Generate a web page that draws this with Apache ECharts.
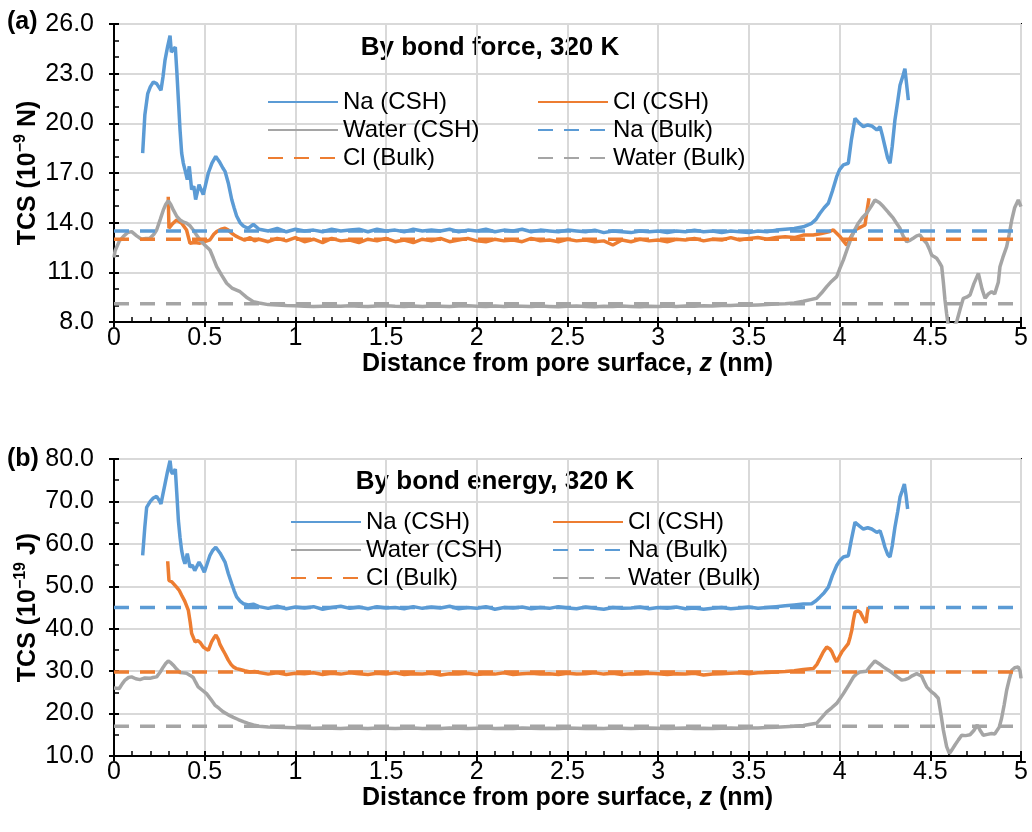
<!DOCTYPE html>
<html>
<head>
<meta charset="utf-8">
<title>TCS profiles</title>
<script src="https://cdn.jsdelivr.net/npm/echarts@6/dist/echarts.min.js"></script>
<style>
  html, body { margin: 0; padding: 0; background: #fff; }
  #chart { width: 1032px; height: 832px; }
</style>
</head>
<body>
<div id="chart"></div>
<script>
// ---------- axis ticks ----------
const Z_TICKS = [0, 5, 0.5];            // min, max, step (nm)
const FORCE_TICKS = [8, 26, 3];         // min, max, step (1e-9 N)
const ENERGY_TICKS = [10, 80, 10];      // min, max, step (1e-19 J)

// ---------- shared z samples across the pore interior ----------
const MID_Z = [0.80,0.85,0.90,0.95,1.00,1.05,1.10,1.15,1.20,1.25,
  1.30,1.35,1.40,1.45,1.50,1.55,1.60,1.65,1.70,1.75,
  1.80,1.85,1.90,1.95,2.00,2.05,2.10,2.15,2.20,2.25,
  2.30,2.35,2.40,2.45,2.50,2.55,2.60,2.65,2.70,2.75,
  2.80,2.85,2.90,2.95,3.00,3.05,3.10,3.15,3.20,3.25,
  3.30,3.35,3.40,3.45,3.50,3.55,3.60,3.65,3.70,3.75,3.80];

// ---------- (a) by bond force ----------
const forceNaLeadZ = [0.158,0.17,0.186,0.2,0.217,0.235,0.259,0.27,0.281,0.295,0.309,0.316,0.323,0.338,0.346,0.355,0.364,0.373,0.382,0.391,0.404,0.415,0.428,0.44,0.45,0.469,0.48,0.492,0.505,0.52,0.54,0.561,0.58,0.6,0.612,0.63,0.649,0.662,0.676,0.695,0.713,0.74,0.768];
const forceNaLead = [18.2,20.5,21.8,22.2,22.5,22.4,22.0,22.8,23.8,24.6,25.3,24.3,24.4,24.6,23.2,21.4,19.6,18.2,17.6,17.2,16.6,17.4,16.0,16.2,15.4,16.3,16.0,15.7,16.3,17.0,17.6,18.0,17.7,17.3,17.1,16.4,15.4,14.9,14.4,14.0,13.8,13.65,13.9];
const forceNaMid = [13.60,13.50,13.65,13.45,13.60,13.50,13.55,13.45,13.60,13.50,
  13.55,13.60,13.45,13.60,13.50,13.55,13.45,13.60,13.50,13.55,
  13.50,13.60,13.45,13.55,13.50,13.60,13.45,13.55,13.50,13.60,
  13.45,13.55,13.50,13.45,13.55,13.50,13.45,13.55,13.40,13.50,
  13.45,13.40,13.50,13.45,13.50,13.40,13.50,13.45,13.55,13.45,
  13.50,13.40,13.50,13.45,13.40,13.50,13.45,13.55,13.60,13.65,13.75];
const forceNaTailZ = [3.846,3.87,3.892,3.915,3.938,3.96,3.984,4.0,4.021,4.048,4.065,4.085,4.11,4.131,4.155,4.177,4.205,4.223,4.235,4.25,4.265,4.278,4.29,4.305,4.32,4.333,4.35,4.36,4.37,4.379];
const forceNaTail = [13.96,14.2,14.57,14.9,15.17,15.9,16.78,17.2,17.49,17.59,19.0,20.3,20.0,19.8,19.9,19.84,19.6,19.8,19.3,18.6,17.9,17.59,18.6,20.2,21.3,22.3,22.9,23.3,22.3,21.4];

const forceClLeadZ = [0.299,0.303,0.32,0.345,0.373,0.40,0.419,0.445,0.474,0.50,0.529,0.55,0.566,0.59,0.612,0.63,0.649,0.67,0.695,0.72,0.75,0.775];
const forceClLead = [15.57,13.66,13.9,14.16,13.97,13.56,12.76,12.8,12.76,12.85,12.96,13.3,13.46,13.6,13.66,13.55,13.36,13.2,13.06,12.95,13.1,12.9];
const forceClMid = [13.00,12.85,13.05,12.90,13.10,12.85,13.00,12.80,13.05,12.90,
  12.95,12.80,13.00,12.90,13.05,12.85,12.95,12.80,13.00,12.90,
  13.05,12.85,12.95,13.05,12.90,12.85,13.00,12.90,12.95,12.85,
  13.05,12.90,12.95,12.85,13.00,12.90,12.95,12.85,12.90,12.65,
  12.95,12.85,13.00,12.90,12.95,12.85,13.00,12.95,13.05,12.90,
  13.00,12.95,13.10,12.95,13.05,13.10,13.00,13.10,13.15,13.10,13.25];
const forceClTailZ = [3.855,3.9,3.94,3.966,3.985,4.002,4.02,4.039,4.06,4.085,4.11,4.14,4.149,4.162];
const forceClTail = [13.26,13.35,13.45,13.56,13.35,13.16,12.9,12.65,13.1,13.56,13.7,13.86,14.57,15.47];

const forceWaterLeadZ = [0.0,0.006,0.03,0.051,0.075,0.097,0.125,0.152,0.175,0.198,0.22,0.235,0.255,0.272,0.285,0.299,0.313,0.327,0.345,0.364,0.38,0.40,0.42,0.437,0.455,0.474,0.50,0.529,0.548,0.566,0.595,0.621,0.65,0.695,0.73,0.768];
const forceWaterLead = [11.9,12.3,12.9,13.16,13.4,13.46,13.2,13.0,13.05,13.06,13.3,13.56,14.2,14.77,15.1,15.33,15.1,14.77,14.4,14.16,14.05,13.97,13.8,13.56,13.25,12.96,12.65,12.35,11.85,11.34,10.8,10.34,10.05,9.83,9.5,9.23];
const forceWaterMid = [9.15,9.05,9.03,9.00,8.98,8.95,8.93,8.95,8.97,8.95,
  8.98,8.95,8.93,8.96,8.98,8.95,8.93,8.96,8.94,8.97,
  8.95,8.93,8.96,8.98,8.95,8.93,8.96,8.94,8.97,8.95,
  8.93,8.96,8.94,8.92,8.95,8.97,8.94,8.92,8.95,8.93,
  8.96,8.94,8.92,8.95,8.93,8.96,8.94,8.97,8.95,8.98,
  8.96,8.99,9.00,9.02,9.01,9.03,9.05,9.08,9.10,9.15,9.25];
const forceWaterTailZ = [3.84,3.873,3.9,3.929,3.955,3.984,4.0,4.021,4.045,4.067,4.085,4.103,4.125,4.149,4.175,4.195,4.22,4.241,4.27,4.296,4.315,4.333,4.35,4.37,4.39,4.406,4.425,4.443,4.46,4.48,4.495,4.507,4.52,4.535,4.55,4.563,4.572,4.581,4.59,4.6,4.62,4.645,4.665,4.682,4.7,4.719,4.74,4.765,4.785,4.802,4.82,4.838,4.855,4.866,4.875,4.884,4.9,4.921,4.935,4.949,4.965,4.985,5.0];
const forceWaterTail = [9.35,9.43,9.75,10.14,10.45,10.74,11.2,11.75,12.5,13.16,13.6,13.97,14.3,14.57,15.0,15.37,15.2,14.97,14.6,14.27,13.95,13.66,13.2,12.85,12.95,13.06,13.2,13.26,13.0,12.76,12.4,12.05,11.95,11.85,11.6,11.34,10.4,9.33,8.5,7.7,7.6,8.0,8.8,9.43,9.5,9.63,10.3,10.94,10.0,9.43,9.7,9.83,9.7,9.63,10.4,11.34,11.9,12.55,13.3,14.16,14.9,15.37,14.97];

// bulk reference levels: Na, Cl, Water
const forceBulk = [13.5, 13.0, 9.1];

// ---------- (b) by bond energy ----------
const energyNaLeadZ = [0.158,0.17,0.18,0.2,0.217,0.235,0.25,0.259,0.27,0.281,0.295,0.309,0.316,0.323,0.338,0.346,0.355,0.364,0.373,0.382,0.391,0.404,0.419,0.432,0.445,0.458,0.469,0.485,0.498,0.515,0.529,0.545,0.561,0.585,0.612,0.63,0.649,0.662,0.676,0.695,0.713,0.74,0.768];
const energyNaLead = [57.3,64.0,68.6,70.0,70.8,71.2,70.2,69.4,71.8,74.1,77.0,79.6,77.0,76.5,77.6,72.0,65.5,61.5,58.4,56.5,55.3,57.7,54.5,55.0,53.7,54.8,55.7,54.5,53.3,55.5,57.3,58.5,59.2,57.8,55.7,53.0,50.6,49.0,47.5,46.5,45.9,45.6,45.8];
const energyNaMid = [45.2,44.8,45.3,44.7,45.1,44.9,45.2,44.6,45.0,45.3,
  44.8,45.1,44.7,45.2,44.9,45.0,44.7,45.2,44.8,45.1,
  44.9,45.3,44.7,45.0,44.8,45.2,44.6,45.0,44.9,45.1,
  44.7,45.0,44.8,45.2,44.9,44.7,45.1,44.8,44.6,45.0,
  44.8,44.9,45.1,44.7,45.0,44.8,45.1,44.7,44.9,44.6,
  44.8,45.0,44.7,44.9,45.1,44.8,45.0,45.2,45.4,45.6,45.8];
const energyNaTailZ = [3.846,3.87,3.892,3.915,3.938,3.96,3.984,4.0,4.021,4.048,4.065,4.085,4.11,4.131,4.155,4.177,4.205,4.223,4.235,4.25,4.265,4.278,4.29,4.305,4.32,4.333,4.345,4.357,4.366,4.375];
const energyNaTail = [45.9,46.6,47.5,48.5,49.8,52.5,54.9,56.0,56.9,57.2,61.0,65.1,64.2,63.5,63.8,63.5,62.7,63.1,61.5,59.2,57.5,56.9,59.5,63.9,67.5,71.0,72.5,74.1,71.5,68.2];

const energyClLeadZ = [0.296,0.303,0.32,0.345,0.36,0.373,0.39,0.41,0.42,0.428,0.447,0.462,0.474,0.492,0.505,0.52,0.538,0.55,0.562,0.575,0.584,0.6,0.612,0.63,0.645,0.658,0.675,0.695,0.72,0.75,0.775];
const energyClLead = [55.9,51.4,51.0,49.8,49.0,47.9,46.5,44.3,41.5,38.9,36.9,37.2,36.8,35.7,35.3,34.9,36.9,37.8,38.5,37.5,36.3,35.0,34.1,32.6,31.6,31.0,30.6,30.4,30.1,29.8,29.9];
const energyClMid = [29.7,29.3,29.6,29.2,29.5,29.4,29.6,29.2,29.5,29.3,
  29.6,29.4,29.2,29.5,29.3,29.6,29.2,29.4,29.3,29.5,
  29.1,29.4,29.3,29.5,29.2,29.4,29.3,29.6,29.2,29.4,
  29.5,29.3,29.4,29.2,29.5,29.3,29.4,29.6,29.3,29.5,
  29.2,29.4,29.3,29.5,29.4,29.2,29.4,29.3,29.5,29.1,
  29.3,29.4,29.5,29.6,29.4,29.6,29.7,29.8,29.9,30.1,30.4];
const energyClTailZ = [3.855,3.875,3.892,3.91,3.929,3.945,3.957,3.97,3.984,3.998,4.012,4.03,4.048,4.058,4.067,4.076,4.085,4.1,4.113,4.13,4.146,4.152,4.158];
const energyClTail = [30.6,31.6,33.0,34.5,35.7,35.3,34.6,33.3,32.2,33.4,34.5,35.5,36.5,38.0,39.6,42.0,43.9,44.2,43.9,42.5,41.4,43.5,45.1];

const energyWaterLeadZ = [0.0,0.006,0.029,0.045,0.061,0.08,0.097,0.12,0.143,0.17,0.198,0.215,0.235,0.255,0.272,0.285,0.299,0.313,0.327,0.345,0.364,0.38,0.40,0.42,0.437,0.45,0.464,0.487,0.51,0.535,0.556,0.58,0.602,0.63,0.658,0.685,0.713,0.74,0.768];
const energyWaterLead = [26.0,26.3,25.9,27.0,27.9,28.5,28.65,28.2,28.0,28.4,28.3,28.5,28.65,29.8,31.0,31.8,32.4,32.0,31.4,30.5,29.7,29.6,29.5,29.0,28.5,27.4,26.3,25.5,24.7,23.3,22.0,21.2,20.4,19.7,19.1,18.6,18.1,17.7,17.3];
const energyWaterMid = [17.0,16.85,16.75,16.7,16.65,16.6,16.55,16.6,16.55,16.5,
  16.6,16.55,16.5,16.6,16.55,16.5,16.55,16.6,16.5,16.55,
  16.5,16.6,16.55,16.5,16.55,16.6,16.5,16.55,16.5,16.6,
  16.55,16.5,16.55,16.5,16.6,16.55,16.5,16.55,16.5,16.6,
  16.55,16.5,16.55,16.6,16.55,16.5,16.55,16.6,16.5,16.55,
  16.5,16.55,16.6,16.55,16.6,16.6,16.7,16.8,16.9,17.0,17.2];
const energyWaterTailZ = [3.84,3.873,3.9,3.929,3.955,3.984,4.0,4.021,4.05,4.076,4.095,4.113,4.149,4.17,4.195,4.22,4.241,4.27,4.296,4.32,4.342,4.36,4.379,4.4,4.425,4.453,4.465,4.48,4.507,4.525,4.544,4.558,4.572,4.59,4.605,4.62,4.636,4.655,4.673,4.695,4.719,4.74,4.759,4.775,4.792,4.815,4.838,4.855,4.866,4.88,4.893,4.907,4.921,4.935,4.949,4.965,4.985,4.995,5.0];
const energyWaterTail = [17.5,17.7,19.0,20.4,21.3,22.4,23.4,24.7,26.7,28.6,29.4,29.8,30.0,31.2,32.4,31.7,31.0,30.2,29.4,28.6,27.9,28.0,28.3,28.9,29.4,28.8,27.6,26.3,25.1,24.5,23.6,20.0,16.1,12.2,10.6,11.5,12.6,13.8,14.9,14.8,15.0,16.0,17.3,16.0,14.9,15.1,15.3,15.2,15.3,16.8,18.9,22.0,25.5,28.0,30.2,30.8,31.0,30.0,28.3];

const energyBulk = [45.0, 29.8, 17.0];

// ---------- styling ----------
const FONT = '"Liberation Sans", Arial, sans-serif';
const BLUE = '#5B9BD5', ORANGE = '#ED7D31', GRAY = '#A5A5A5';
const SPECIES = ['Na', 'Cl', 'Water'];
const COLORS = [BLUE, ORANGE, GRAY];

const PANELS = [
  { grid: { left: 114, top: 24, width: 907, height: 298 }, ticks: FORCE_TICKS,
    yName: '{b|TCS (10}{s|\u22129}{b| N)}', title: 'By bond force, 320 K', tag: '(a)',
    titleX: 490, titleY: 48, tagY: 22, legendTop: 90, legendLeft: [267, 537],
    curves: [
      [forceNaLeadZ, forceNaLead, forceNaMid, forceNaTailZ, forceNaTail],
      [forceClLeadZ, forceClLead, forceClMid, forceClTailZ, forceClTail],
      [forceWaterLeadZ, forceWaterLead, forceWaterMid, forceWaterTailZ, forceWaterTail]
    ], bulk: forceBulk },
  { grid: { left: 114, top: 459, width: 907, height: 297 }, ticks: ENERGY_TICKS,
    yName: '{b|TCS (10}{s|\u221219}{b| J)}', title: 'By bond energy, 320 K', tag: '(b)',
    titleX: 495, titleY: 482, tagY: 459, legendTop: 510, legendLeft: [290, 552],
    curves: [
      [energyNaLeadZ, energyNaLead, energyNaMid, energyNaTailZ, energyNaTail],
      [energyClLeadZ, energyClLead, energyClMid, energyClTailZ, energyClTail],
      [energyWaterLeadZ, energyWaterLead, energyWaterMid, energyWaterTailZ, energyWaterTail]
    ], bulk: energyBulk }
];

function pairs(zs, vs) { return zs.map((z, i) => [z, vs[i]]); }
function profile(c) {
  return pairs(c[0], c[1]).concat(pairs(MID_Z, c[2]), pairs(c[3], c[4]));
}

const black = { color: '#000', width: 2 };
const tickFont = { fontFamily: FONT, fontSize: 25, color: '#000' };
const boldRich = {
  b: { fontFamily: FONT, fontSize: 25, fontWeight: 'bold', color: '#000', lineHeight: 30 },
  i: { fontFamily: FONT, fontSize: 25, fontWeight: 'bold', fontStyle: 'italic', color: '#000', lineHeight: 30 },
  s: { fontFamily: FONT, fontSize: 16, fontWeight: 'bold', color: '#000', lineHeight: 30, verticalAlign: 'top' }
};

const grid = [], xAxis = [], yAxis = [], series = [], legend = [], graphic = [];

PANELS.forEach((p, i) => {
  const [yMin, yMax, yStep] = p.ticks;
  grid.push(Object.assign({ show: true, borderColor: '#000', borderWidth: 2, backgroundColor: 'transparent' }, p.grid));

  // x: labelled axis with inward ticks, plus an unlabelled one for the outward half of the major ticks
  const xi = xAxis.length;
  xAxis.push({
    gridIndex: i, type: 'value', position: 'bottom', min: Z_TICKS[0], max: Z_TICKS[1], interval: Z_TICKS[2],
    axisLine: { show: true, onZero: false, lineStyle: black },
    axisTick: { show: true, inside: true, length: 5, lineStyle: black },
    minorTick: { show: true, splitNumber: 5, length: 5, lineStyle: { color: '#000', width: 1.5 } },
    axisLabel: Object.assign({ margin: 4 }, tickFont),
    splitLine: { show: true, lineStyle: { color: '#D9D9D9', width: 2 } },
    name: '{b|Distance from pore surface, }{i|z}{b| (nm)}', nameLocation: 'middle', nameGap: 27,
    nameMoveOverlap: false, nameTextStyle: { rich: boldRich }
  });
  xAxis.push({
    gridIndex: i, type: 'value', position: 'bottom', min: Z_TICKS[0], max: Z_TICKS[1], interval: Z_TICKS[2],
    axisLine: { show: false, onZero: false }, axisTick: { show: true, inside: false, length: 5, lineStyle: black },
    axisLabel: { show: false }, splitLine: { show: false }
  });

  // y: the data axis spans the value range; the tick axis is counted from the bottom edge
  const yi = yAxis.length;
  yAxis.push({ gridIndex: i, type: 'value', position: 'left', min: yMin, max: yMax, show: false });
  yAxis.push({
    gridIndex: i, type: 'value', position: 'left', min: 0, max: yMax - yMin, interval: yStep,
    axisLine: { show: true, onZero: false, lineStyle: black },
    axisTick: { show: true, inside: true, length: 5, lineStyle: black },
    minorTick: { show: true, splitNumber: yStep === 3 ? 3 : 2, length: 5, lineStyle: { color: '#000', width: 1.5 } },
    axisLabel: Object.assign({ margin: 20, formatter: v => (v + yMin).toFixed(1) }, tickFont),
    splitLine: { show: true, lineStyle: { color: '#D9D9D9', width: 2 } },
    name: p.yName, nameLocation: 'middle', nameGap: 71, nameMoveOverlap: false,
    nameTextStyle: { rich: boldRich }
  });
  yAxis.push({
    gridIndex: i, type: 'value', position: 'left', min: 0, max: yMax - yMin, interval: yStep,
    axisLine: { show: false, onZero: false }, axisTick: { show: true, inside: false, length: 5, lineStyle: black },
    axisLabel: { show: false }, splitLine: { show: false }
  });

  // profiles inside the CSH pore
  p.curves.forEach((c, k) => {
    series.push({
      name: SPECIES[k] + ' (CSH)', type: 'line', xAxisIndex: xi, yAxisIndex: yi,
      data: profile(c), showSymbol: false, symbol: 'none', clip: true,
      lineStyle: { color: COLORS[k], width: 3.5 }, itemStyle: { color: COLORS[k] }
    });
  });
  // bulk reference levels across the whole width
  p.bulk.forEach((v, k) => {
    series.push({
      name: SPECIES[k] + ' (Bulk)', type: 'line', xAxisIndex: xi, yAxisIndex: yi,
      data: [[Z_TICKS[0], v], [Z_TICKS[1], v]], showSymbol: false, symbol: 'none',
      lineStyle: { color: COLORS[k], width: 3.5, type: [15, 11] }, itemStyle: { color: COLORS[k] }
    });
  });

  const cols = [['Na (CSH)', 'Water (CSH)', 'Cl (Bulk)'], ['Cl (CSH)', 'Na (Bulk)', 'Water (Bulk)']];
  cols.forEach((names, j) => {
    legend.push({
      data: names, orient: 'vertical', left: p.legendLeft[j], top: p.legendTop, padding: 0,
      itemWidth: 70, itemHeight: 14, itemGap: 4, selectedMode: false,
      itemStyle: { opacity: 0 },
      textStyle: { fontFamily: FONT, fontSize: 24, color: '#000', lineHeight: 24 }
    });
  });

  graphic.push({
    type: 'text', x: p.titleX, y: p.titleY,
    style: { text: p.title, align: 'center', verticalAlign: 'middle', fill: '#000',
      font: 'bold 26px ' + FONT }
  });
  graphic.push({
    type: 'text', x: 7, y: p.tagY,
    style: { text: p.tag, align: 'left', verticalAlign: 'middle', fill: '#000',
      font: 'bold 25px ' + FONT }
  });
});

const chart = echarts.init(document.getElementById('chart'), null, { renderer: 'canvas' });
chart.setOption({
  animation: false,
  backgroundColor: '#fff',
  textStyle: { fontFamily: FONT },
  grid, xAxis, yAxis, series, legend, graphic
});
</script>
</body>
</html>
